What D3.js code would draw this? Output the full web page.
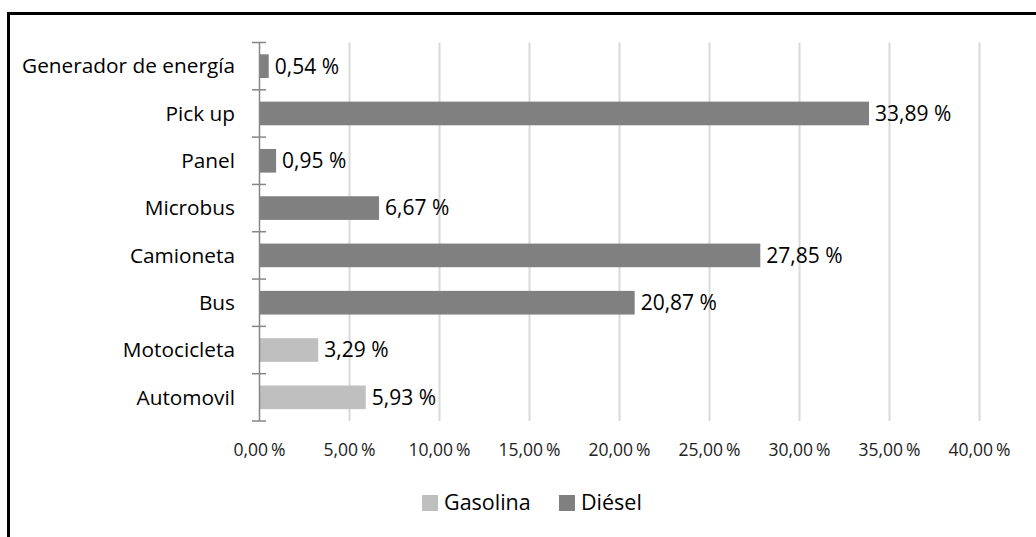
<!DOCTYPE html>
<html>
<head>
<meta charset="utf-8">
<script src="https://cdn.jsdelivr.net/npm/d3@7"></script>
<style>
  html, body { margin: 0; padding: 0; background: #fff; }
  svg { display: block; font-family: "Open Sans", Lato, sans-serif; }
</style>
</head>
<body>
<svg id="chart" width="1036" height="537"></svg>
<script>
// Vehicle categories, bottom to top as drawn
const categories = ["Automovil", "Motocicleta", "Bus", "Camioneta", "Microbus", "Panel", "Pick up", "Generador de energía"];
// Share per category (%) and the fuel series each one belongs to
const values = [5.93, 3.29, 20.87, 27.85, 6.67, 0.95, 33.89, 0.54];
const fuel = ["Gasolina", "Gasolina", "Diésel", "Diésel", "Diésel", "Diésel", "Diésel", "Diésel"];
const seriesNames = ["Gasolina", "Diésel"];
const seriesColors = ["#bfbfbf", "#808080"];
const xTicks = [0, 5, 10, 15, 20, 25, 30, 35, 40];

const svg = d3.select("#chart");
const fmt = v => d3.format(".2f")(v).replace(".", ",") + " %";
const fmtTick = v => d3.format(".2f")(v).replace(".", ",") + "\u2009%";
const color = d3.scaleOrdinal().domain(seriesNames).range(seriesColors);

// Outer frame (top and left edges visible)
svg.append("path")
  .attr("d", "M8.5,537 V13.5 H1036")
  .attr("fill", "none").attr("stroke", "#000").attr("stroke-width", 3);

const plot = { left: 259, right: 979, top: 42.5, bottom: 421 };

const x = d3.scaleLinear().domain([0, 40]).range([plot.left, plot.right]);
const y = d3.scaleBand().domain(categories.slice().reverse())
  .range([plot.top, plot.bottom]).paddingInner(0.5).paddingOuter(0.25);

// Vertical gridlines
svg.append("g").selectAll("line").data(xTicks.filter(t => t > 0)).join("line")
  .attr("x1", d => Math.round(x(d)) + 0.5).attr("x2", d => Math.round(x(d)) + 0.5)
  .attr("y1", plot.top).attr("y2", plot.bottom)
  .attr("stroke", "#d9d9d9").attr("stroke-width", 2);

// X tick labels
const xAxis = d3.axisBottom(x).tickValues(xTicks).tickSize(0).tickPadding(0)
  .tickFormat(fmtTick);
const gx = svg.append("g").attr("transform", `translate(0,${plot.bottom + 23})`).call(xAxis);
gx.select(".domain").remove();
gx.selectAll("text").attr("font-size", 17.5).attr("fill", "#222")
  .attr("font-family", "'Open Sans', Lato, sans-serif");

// Bars
svg.append("g").selectAll("rect").data(categories).join("rect")
  .attr("x", x(0))
  .attr("y", d => y(d))
  .attr("width", (d, i) => x(values[i]) - x(0))
  .attr("height", y.bandwidth())
  .attr("fill", (d, i) => color(fuel[i]));

// Value labels
svg.append("g").selectAll("text").data(categories).join("text")
  .attr("x", (d, i) => x(values[i]) + 6)
  .attr("y", d => y(d) + y.bandwidth() / 2)
  .attr("dy", "0.35em")
  .attr("font-size", 21).attr("fill", "#000")
  .text((d, i) => fmt(values[i]));

// Category axis with ticks crossing the axis line
const yBoundaries = d3.range(categories.length + 1).map(i => plot.top + i * y.step());
const gy = svg.append("g");
gy.append("line").attr("x1", plot.left + 0.5).attr("x2", plot.left + 0.5)
  .attr("y1", plot.top).attr("y2", plot.bottom).attr("stroke", "#868686").attr("stroke-width", 1.5);
gy.selectAll("line.tick").data(yBoundaries).join("line").attr("class", "tick")
  .attr("x1", plot.left - 7).attr("x2", plot.left + 7)
  .attr("y1", d => d).attr("y2", d => d)
  .attr("stroke", "#868686").attr("stroke-width", 1.5);
gy.selectAll("text").data(categories).join("text")
  .attr("x", 235)
  .attr("y", d => y(d) + y.bandwidth() / 2)
  .attr("dy", "0.35em")
  .attr("text-anchor", "end")
  .attr("font-size", 20.8).attr("fill", "#000")
  .text(d => d);

// Legend
const legendItems = [{ name: "Gasolina", x: 422 }, { name: "Diésel", x: 559 }];
const lg = svg.append("g").selectAll("g").data(legendItems).join("g")
  .attr("transform", d => `translate(${d.x},495)`);
lg.append("rect").attr("width", 16).attr("height", 16).attr("fill", d => color(d.name));
lg.append("text").attr("x", 22).attr("y", 7).attr("dy", "0.35em")
  .attr("font-size", 21.5).attr("fill", "#000").text(d => d.name);
</script>
</body>
</html>
